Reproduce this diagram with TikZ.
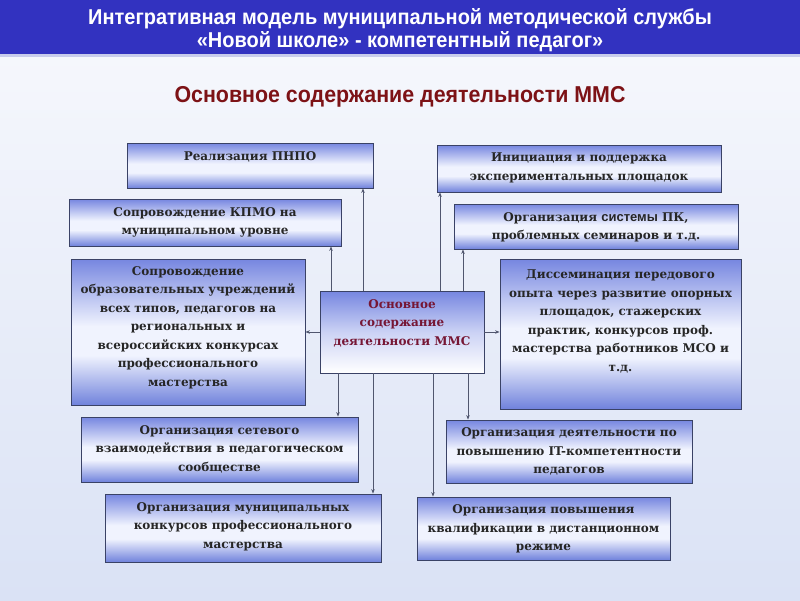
\documentclass[tikz,border=0pt]{standalone}
\usepackage{fontspec}
\setmainfont{DejaVu Serif}
\newfontfamily\hdrfont{Liberation Sans}
\newfontfamily\hdrnarrow[FakeStretch=0.93]{Liberation Sans}
\usetikzlibrary{arrows.meta}
\definecolor{hdrblue}{RGB}{50,50,192}
\definecolor{hdrline}{RGB}{200,204,236}
\definecolor{bgtop}{RGB}{248,249,253}
\definecolor{bgbot}{RGB}{218,226,245}
\definecolor{subred}{RGB}{125,18,22}
\definecolor{ctrred}{RGB}{118,22,52}
\definecolor{boxtop}{RGB}{118,134,224}
\definecolor{boxmid}{RGB}{240,243,254}
\definecolor{boxbot}{RGB}{112,130,220}
\definecolor{boxedge}{RGB}{58,66,102}
\definecolor{conn}{RGB}{80,86,110}
\pgfdeclareverticalshading{boxshade}{100bp}{color(0bp)=(boxbot); color(25bp)=(boxbot); color(42bp)=(boxmid); color(52bp)=(boxmid); color(75bp)=(boxtop); color(100bp)=(boxtop)}
\tikzset{
  box/.style={draw=boxedge, line width=0.8pt, shading=boxshade, inner sep=0pt},
  ctrbox/.style={draw=boxedge, line width=0.8pt, top color=boxtop, bottom color=white, middle color=boxmid!70!boxtop, inner sep=0pt},
  boxtext/.style={align=center, inner sep=0pt, font=\fontsize{12}{18.5}\selectfont\bfseries, text=black!85},
  conn/.style={draw=conn, line width=0.8pt, -{Stealth[length=4.5pt,width=3.5pt]}}
}
\begin{document}
\begin{tikzpicture}[x=1pt,y=-1pt]
\useasboundingbox (0,0) rectangle (800,600);
\shade[top color=bgtop, bottom color=bgbot] (0,0) rectangle (800,600);
\fill[hdrblue] (0,0) rectangle (800,54);
\fill[hdrline] (0,54) rectangle (800,57);
\node[text=white, font=\hdrnarrow\bfseries\fontsize{21.5}{23}\selectfont, inner sep=0pt] (title1) at (400,19) {Интегративная модель муниципальной методической службы};
\node[text=white, font=\hdrnarrow\bfseries\fontsize{21.5}{23}\selectfont, inner sep=0pt] (title2) at (400,42) {«Новой школе» - компетентный педагог»};
\node[text=subred, font=\hdrnarrow\bfseries\fontsize{23}{26}\selectfont, inner sep=0pt] (subtitle) at (400,97) {Основное содержание деятельности ММС};

% boxes
\node[box, minimum width=246pt, minimum height=45pt] (pnpo) at (250,165.5) {};
\node[box, minimum width=272pt, minimum height=47pt] (kpmo) at (205,222.5) {};
\node[box, minimum width=234pt, minimum height=146pt] (lbig) at (188,332) {};
\node[ctrbox, minimum width=164pt, minimum height=82pt] (ctr) at (402,332) {};
\node[box, minimum width=284pt, minimum height=47pt] (init) at (579,168.5) {};
\node[box, minimum width=284pt, minimum height=45pt] (pk) at (596,226.5) {};
\node[box, minimum width=241pt, minimum height=150pt] (diss) at (620.5,334) {};
\node[box, minimum width=277pt, minimum height=65pt] (net) at (219.5,449.5) {};
\node[box, minimum width=276pt, minimum height=68pt] (munic) at (243,528) {};
\node[box, minimum width=246pt, minimum height=63pt] (it) at (569,451.5) {};
\node[box, minimum width=253pt, minimum height=63pt] (dist) at (543.5,528.5) {};

% texts
\node[boxtext] (tpnpo) at (250,157) {Реализация ПНПО};
\node[boxtext] (tkpmo) at (205,222.5) {Сопровождение КПМО на\\муниципальном уровне};
\node[boxtext] (tlbig) at (188,327.5) {Сопровождение\\образовательных учреждений\\всех типов, педагогов на\\региональных и\\всероссийских конкурсах\\профессионального\\мастерства};
\node[boxtext, text=ctrred] (tctr) at (402,323) {Основное\\содержание\\деятельности ММС};
\node[boxtext] (tinit) at (579,168) {Инициация и поддержка\\экспериментальных площадок};
\node[boxtext] (tpk) at (596,227.5) {Организация {\hdrfont\bfseries\fontsize{13}{18.5}\selectfont системы} ПК,\\проблемных семинаров и т.д.};
\node[boxtext] (tdiss) at (620.5,321.5) {Диссеминация передового\\опыта через развитие опорных\\площадок, стажерских\\практик, конкурсов проф.\\мастерства работников МСО и\\т.д.};
\node[boxtext] (tnet) at (219.5,449) {Организация сетевого\\взаимодействия в педагогическом\\сообществе};
\node[boxtext] (tmunic) at (243,526.5) {Организация муниципальных\\конкурсов профессионального\\мастерства};
\node[boxtext] (tit) at (569,451.5) {Организация деятельности по\\повышению IT-компетентности\\педагогов};
\node[boxtext] (tdist) at (543.5,529) {Организация повышения\\квалификации в дистанционном\\режиме};

% connector x positions
\coordinate (xa) at (331,0);
\coordinate (xb) at (363,0);
\coordinate (xc) at (440,0);
\coordinate (xd) at (463,0);
\coordinate (xe) at (338,0);
\coordinate (xf) at (373,0);
\coordinate (xg) at (433,0);
\coordinate (xh) at (468,0);

\draw[conn] (ctr.north -| xa) -- (kpmo.south -| xa);
\draw[conn] (ctr.north -| xb) -- (pnpo.south -| xb);
\draw[conn] (ctr.north -| xc) -- (init.south -| xc);
\draw[conn] (ctr.north -| xd) -- (pk.south -| xd);
\draw[conn] (ctr.west) -- (lbig.east |- ctr.west);
\draw[conn] (ctr.east) -- (diss.west |- ctr.east);
\draw[conn] (ctr.south -| xe) -- (net.north -| xe);
\draw[conn] (ctr.south -| xf) -- (munic.north -| xf);
\draw[conn] (ctr.south -| xg) -- (dist.north -| xg);
\draw[conn] (ctr.south -| xh) -- (it.north -| xh);
\end{tikzpicture}
\end{document}
